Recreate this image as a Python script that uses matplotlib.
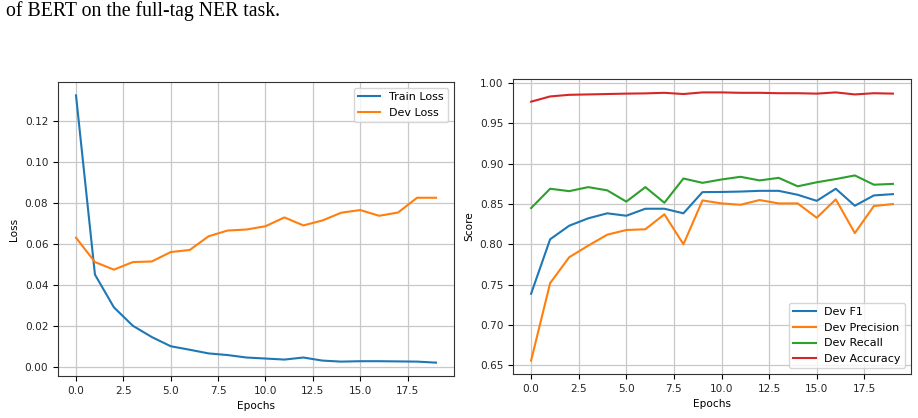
import matplotlib
matplotlib.use("Agg")
import matplotlib.pyplot as plt
import numpy as np

epochs = list(range(20))

train_loss = [0.1325, 0.045, 0.029, 0.020, 0.0145, 0.0100, 0.0083, 0.0065, 0.0057, 0.0045,
              0.0040, 0.0035, 0.0045, 0.0030, 0.0025, 0.0027, 0.0027, 0.0026, 0.0025, 0.0020]
dev_loss = [0.063, 0.0511, 0.0474, 0.0511, 0.0514, 0.0560, 0.0570, 0.0637, 0.0665, 0.0670,
            0.0686, 0.0729, 0.0690, 0.0714, 0.0752, 0.0765, 0.0737, 0.0753, 0.0825, 0.0825]

dev_f1 = [0.7387, 0.8063, 0.8231, 0.8323, 0.8385, 0.8355, 0.8442, 0.8442, 0.8385, 0.8648,
          0.8650, 0.8655, 0.8664, 0.8664, 0.8615, 0.8540, 0.8690, 0.8479, 0.8607, 0.8623]
dev_precision = [0.6558, 0.7519, 0.7840, 0.7984, 0.8120, 0.8178, 0.8187, 0.8373, 0.8001, 0.8545,
                 0.8508, 0.8491, 0.8550, 0.8508, 0.8508, 0.8330, 0.8558, 0.8140, 0.8475, 0.8500]
dev_recall = [0.8450, 0.8690, 0.8660, 0.8710, 0.8670, 0.8530, 0.8710, 0.8516, 0.8817, 0.8763,
              0.8805, 0.8838, 0.8793, 0.8825, 0.8720, 0.8770, 0.8810, 0.8855, 0.8740, 0.8750]
dev_accuracy = [0.9770, 0.9835, 0.9855, 0.9860, 0.9865, 0.9870, 0.9873, 0.9880, 0.9865, 0.9885,
                0.9885, 0.9880, 0.9880, 0.9875, 0.9875, 0.9870, 0.9885, 0.9860, 0.9875, 0.9870]

caption = "of BERT on the full-tag NER task."

W, H = 918, 418
fig = plt.figure(figsize=(W / 100, H / 100), dpi=100)
plt.rcParams['font.size'] = 7.6

fig.text(6 / W, 1 - 16 / H, caption, family="Liberation Serif", fontsize=14.2,
         ha="left", va="baseline")

def box(l, r, t, b):
    return [l / W, 1 - b / H, (r - l) / W, (b - t) / H]

fs = 7.6
lfs = 8.0
tick_col = "#262626"

ax1 = fig.add_axes(box(58, 454, 82, 376))
ax1.plot(epochs, train_loss, label="Train Loss", lw=1.5)
ax1.plot(epochs, dev_loss, label="Dev Loss", lw=1.5)
ax1.set_xlabel("Epochs", fontsize=fs)
ax1.set_ylabel("Loss", fontsize=fs)
ax1.set_xticks(np.arange(0, 20, 2.5))
ax1.set_yticks(np.arange(0, 0.121, 0.02))
ax1.grid(True, color="#c8c8c8", lw=0.9)
ax1.legend(loc="upper right", fontsize=lfs)
ax1.tick_params(labelsize=fs, labelcolor=tick_col)

ax2 = fig.add_axes(box(513, 911, 79, 374))
ax2.plot(epochs, dev_f1, label="Dev F1", lw=1.5)
ax2.plot(epochs, dev_precision, label="Dev Precision", lw=1.5)
ax2.plot(epochs, dev_recall, label="Dev Recall", lw=1.5)
ax2.plot(epochs, dev_accuracy, label="Dev Accuracy", lw=1.5)
ax2.set_xlabel("Epochs", fontsize=fs)
ax2.set_ylabel("Score", fontsize=fs)
ax2.set_xticks(np.arange(0, 20, 2.5))
ax2.set_yticks(np.arange(0.65, 1.001, 0.05))
ax2.grid(True, color="#c8c8c8", lw=0.9)
ax2.legend(loc="lower right", fontsize=lfs)
ax2.tick_params(labelsize=fs, labelcolor=tick_col)

for ax in (ax1, ax2):
    for s in ax.spines.values():
        s.set_color("#333333")

fig.savefig("out.png", dpi=100)
